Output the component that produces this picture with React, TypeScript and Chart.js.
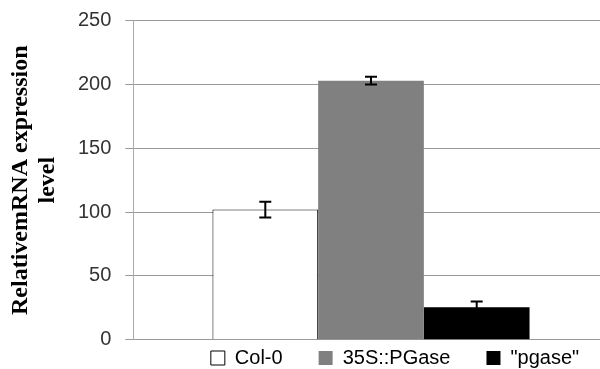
import React, { useEffect, useRef } from "react";
import { Chart, registerables } from "chart.js";

Chart.register(...registerables);

const categories = [""];
const seriesNames = ["Col-0", "35S::PGase", "\"pgase\""];
const seriesValues = [102, 203, 25.5];
const seriesErrors = [6.2, 3, 4.5];
const seriesFill = ["#ffffff", "#808080", "#000000"];
const seriesBorder = ["#000000", "#808080", "#000000"];
const seriesBorderWidth = [1, 0, 0];
const yTitle = ["RelativemRNA expression", "level"];
const yMin = 0;
const yMax = 250;
const yStep = 50;

const errorBars = {
  id: "errorBars",
  afterDatasetsDraw(chart: any) {
    const ctx = chart.ctx;
    const yScale = chart.scales.y;
    ctx.save();
    ctx.strokeStyle = "#000";
    ctx.lineWidth = 2;
    chart.data.datasets.forEach((ds: any, i: number) => {
      const meta = chart.getDatasetMeta(i);
      meta.data.forEach((el: any, j: number) => {
        const v = ds.data[j];
        const e = seriesErrors[i];
        const x = el.x;
        const yt = yScale.getPixelForValue(v + e);
        const yb = yScale.getPixelForValue(v - e);
        ctx.beginPath();
        ctx.moveTo(x, yt);
        ctx.lineTo(x, yb);
        ctx.moveTo(x - 6, yt);
        ctx.lineTo(x + 6, yt);
        ctx.moveTo(x - 6, yb);
        ctx.lineTo(x + 6, yb);
        ctx.stroke();
      });
    });
    ctx.restore();
  },
};

const legendPlace = {
  id: "legendPlace",
  afterLayout(chart: any) {
    const lg = chart.legend;
    if (!lg) return;
    const w = lg.right - lg.left;
    const center = 395;
    lg.left = center - w / 2;
    lg.right = lg.left + w;
    lg.top = 312;
    lg.bottom = 369;
  },
};

export default function App() {
  const ref = useRef<HTMLCanvasElement | null>(null);
  useEffect(() => {
    if (!ref.current) return;
    const font = "'Liberation Sans', Arial, sans-serif";
    const chart = new Chart(ref.current, {
      type: "bar",
      data: {
        labels: categories,
        datasets: seriesNames.map((name, i) => ({
          label: name,
          data: [seriesValues[i]],
          backgroundColor: seriesFill[i],
          borderColor: seriesBorder[i],
          borderWidth: seriesBorderWidth[i],
          categoryPercentage: 0.667,
          barPercentage: 1,
        })),
      },
      options: {
        animation: false,
        responsive: false,
        maintainAspectRatio: false,
        layout: { padding: { top: 20.7, left: 0, right: 1.3, bottom: 0 } },
        plugins: {
          tooltip: { enabled: false },
          legend: {
            position: "bottom",
            maxHeight: 29.3,
            labels: {
              boxWidth: 14,
              boxHeight: 14,
              padding: 36,
              color: "#000",
              font: { family: font, size: 20 },
            },
          },
        },
        scales: {
          x: { display: false, offset: true },
          y: {
            min: yMin,
            max: yMax,
            ticks: {
              stepSize: yStep,
              padding: 14,
              color: "#333",
              font: { family: font, size: 20 },
            },
            grid: { color: "#999", tickLength: 8, drawTicks: true },
            border: { color: "#aaa" },
            title: {
              display: true,
              text: yTitle,
              color: "#000",
              font: { family: "'Liberation Serif', 'Times New Roman', serif", size: 24, weight: "bold", lineHeight: 1.125 },
              padding: { top: 7.5, bottom: 0 },
            },
            afterFit: (s: any) => {
              s.width = 133.3;
              s.paddingTop = 0;
              s.paddingBottom = 0;
            },
          },
        },
      } as any,
      plugins: [errorBars, legendPlace],
    });
    return () => chart.destroy();
  }, []);
  return (
    <div style={{ position: "fixed", left: 0, top: 0, width: 600, height: 369, overflow: "hidden", background: "#fff" }}>
      <canvas ref={ref} width={610} height={369} style={{ width: 610, height: 369, display: "block" }} />
    </div>
  );
}
